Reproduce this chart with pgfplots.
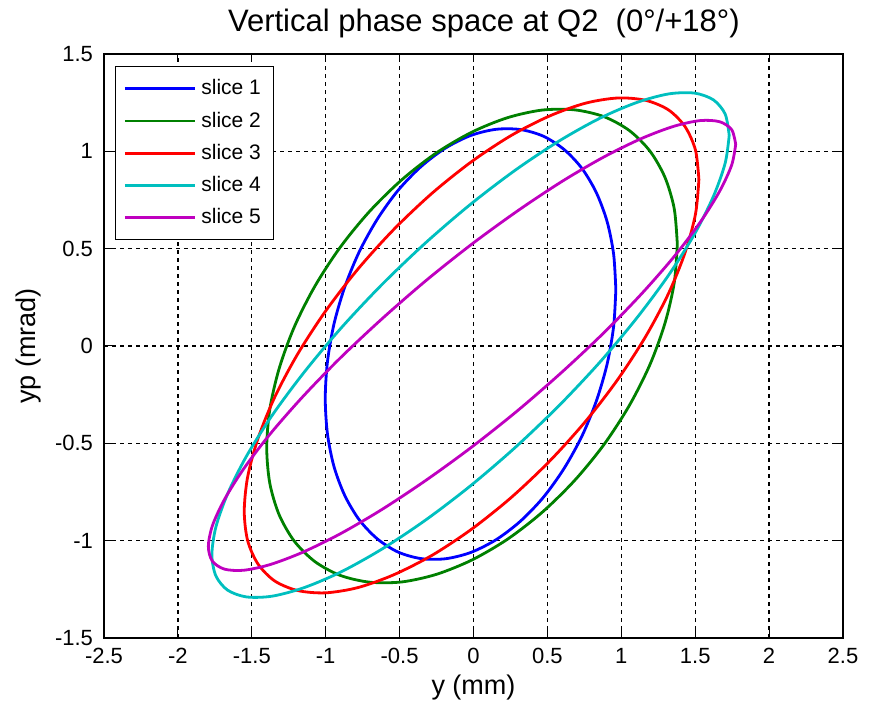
\documentclass[border=0pt]{standalone}
\usepackage{pgfplots}
\pgfplotsset{compat=1.18}
\usepackage{fontspec}
\setmainfont{Liberation Sans}
\definecolor{mblue}{rgb}{0,0,1}
\definecolor{mgreen}{rgb}{0,0.5,0}
\definecolor{mred}{rgb}{1,0,0}
\definecolor{mcyan}{rgb}{0,0.75,0.75}
\definecolor{mmag}{rgb}{0.75,0,0.75}
\begin{document}
\begin{tikzpicture}
\begin{axis}[
  scale only axis, width=369.5pt, height=292pt,
  xmin=-2.5, xmax=2.5, ymin=-1.5, ymax=1.5,
  xtick={-2.5,-2,-1.5,-1,-0.5,0,0.5,1,1.5,2,2.5},
  ytick={-1.5,-1,-0.5,0,0.5,1,1.5},
  tick pos=both, tick align=inside, major tick length=4pt,
  tick style={black, line width=0.5pt},
  axis line style={black, line width=0.6pt},
  grid=major,
  major grid style={black, line width=0.65pt, dash pattern=on 2pt off 2pt},
  /pgf/number format/assume math mode=true,
  tick label style={font=\fontsize{11}{13}\selectfont},
  every x tick label/.append style={yshift=-1.5pt},
  every y tick label/.append style={xshift=-2pt},
  xlabel={y (mm)}, ylabel={yp (mrad)},
  every axis x label/.style={at={(axis description cs:0.5,-0.0856)}, anchor=center, font=\fontsize{13.5}{15}\selectfont},
  every axis y label/.style={at={(axis description cs:-0.102,0.5)}, rotate=90, anchor=center, font=\fontsize{13.5}{15}\selectfont},
  title={Vertical phase space at Q2\ \ (0°/+18°)},
  every axis title/.style={at={(axis description cs:0.514,1.052)}, anchor=center, font=\fontsize{15.5}{17}\selectfont},
  legend style={at={(0.015,0.979)}, anchor=north west, draw=black, line width=0.5pt,
    font=\fontsize{10.5}{12}\selectfont, inner xsep=4pt, inner ysep=4pt, row sep=2pt,
    nodes={inner sep=2.5pt}, /tikz/every even column/.append style={column sep=1pt}},
  legend cell align=left,
  legend image code/.code={\draw[#1, line width=1.4pt] (0pt,0pt) -- (35pt,0pt);},
]
\addplot[mblue, line width=1.4pt, smooth] coordinates {
(0.963,0.290) (0.948,0.472) (0.904,0.639) (0.831,0.788) (0.733,0.913) (0.612,1.010)
(0.472,1.078) (0.316,1.112) (0.151,1.113) (-0.020,1.081) (-0.191,1.016) (-0.356,0.921)
(-0.512,0.798) (-0.652,0.650) (-0.773,0.484) (-0.871,0.303) (-0.944,0.113) (-0.988,-0.080)
(-1.003,-0.270) (-0.988,-0.452) (-0.944,-0.619) (-0.871,-0.768) (-0.773,-0.893) (-0.652,-0.990)
(-0.512,-1.058) (-0.356,-1.092) (-0.191,-1.093) (-0.020,-1.061) (0.151,-0.996) (0.316,-0.901)
(0.472,-0.778) (0.612,-0.630) (0.733,-0.464) (0.831,-0.283) (0.904,-0.093) (0.948,0.100)
(0.963,0.290)};
\addlegendentry{slice 1}
\addplot[mgreen, line width=1.4pt, smooth] coordinates {
(1.379,0.523) (1.358,0.706) (1.295,0.867) (1.193,1.002) (1.054,1.107) (0.883,1.178)
(0.685,1.213) (0.465,1.212) (0.231,1.173) (-0.010,1.099) (-0.251,0.992) (-0.485,0.854)
(-0.705,0.690) (-0.903,0.506) (-1.074,0.306) (-1.213,0.097) (-1.315,-0.116) (-1.378,-0.324)
(-1.399,-0.523) (-1.378,-0.706) (-1.315,-0.867) (-1.213,-1.002) (-1.074,-1.107) (-0.903,-1.178)
(-0.705,-1.213) (-0.485,-1.212) (-0.251,-1.173) (-0.010,-1.099) (0.231,-0.992) (0.465,-0.854)
(0.685,-0.690) (0.883,-0.506) (1.054,-0.306) (1.193,-0.097) (1.295,0.116) (1.358,0.324)
(1.379,0.523)};
\addlegendentry{slice 2}
\addplot[mred, line width=1.4pt, smooth] coordinates {
(1.525,0.855) (1.502,1.006) (1.432,1.126) (1.319,1.213) (1.165,1.262) (0.976,1.274)
(0.756,1.247) (0.513,1.181) (0.254,1.081) (-0.013,0.947) (-0.280,0.785) (-0.539,0.599)
(-0.782,0.395) (-1.002,0.178) (-1.191,-0.043) (-1.345,-0.263) (-1.458,-0.475) (-1.528,-0.672)
(-1.551,-0.849) (-1.528,-1.000) (-1.458,-1.120) (-1.345,-1.207) (-1.191,-1.256) (-1.002,-1.268)
(-0.782,-1.241) (-0.539,-1.175) (-0.280,-1.075) (-0.013,-0.941) (0.254,-0.779) (0.513,-0.593)
(0.756,-0.389) (0.976,-0.172) (1.165,0.049) (1.319,0.269) (1.432,0.481) (1.502,0.678)
(1.525,0.855)};
\addlegendentry{slice 3}
\addplot[mcyan, line width=1.4pt, smooth] coordinates {
(1.730,1.082) (1.703,1.191) (1.624,1.264) (1.496,1.299) (1.321,1.295) (1.105,1.251)
(0.855,1.170) (0.579,1.053) (0.284,0.904) (-0.020,0.728) (-0.324,0.530) (-0.619,0.316)
(-0.895,0.093) (-1.145,-0.134) (-1.361,-0.355) (-1.536,-0.566) (-1.664,-0.760) (-1.743,-0.930)
(-1.770,-1.072) (-1.743,-1.181) (-1.664,-1.254) (-1.536,-1.289) (-1.361,-1.285) (-1.145,-1.241)
(-0.895,-1.160) (-0.619,-1.043) (-0.324,-0.894) (-0.020,-0.718) (0.284,-0.520) (0.579,-0.306)
(0.855,-0.083) (1.105,0.144) (1.321,0.365) (1.496,0.576) (1.624,0.770) (1.703,0.940)
(1.730,1.082)};
\addlegendentry{slice 4}
\addplot[mmag, line width=1.4pt, smooth] coordinates {
(1.774,1.036) (1.747,1.111) (1.666,1.152) (1.535,1.158) (1.357,1.129) (1.137,1.066)
(0.882,0.971) (0.600,0.846) (0.300,0.695) (-0.010,0.524) (-0.320,0.337) (-0.620,0.139)
(-0.902,-0.062) (-1.157,-0.262) (-1.377,-0.453) (-1.555,-0.631) (-1.686,-0.790) (-1.767,-0.924)
(-1.794,-1.030) (-1.767,-1.105) (-1.686,-1.146) (-1.555,-1.152) (-1.377,-1.123) (-1.157,-1.060)
(-0.902,-0.965) (-0.620,-0.840) (-0.320,-0.689) (-0.010,-0.518) (0.300,-0.331) (0.600,-0.133)
(0.882,0.068) (1.137,0.268) (1.357,0.459) (1.535,0.637) (1.666,0.796) (1.747,0.930)
(1.774,1.036)};
\addlegendentry{slice 5}
\end{axis}
\pgfresetboundingbox
\path ([xshift=-52pt,yshift=-34.5pt]current axis.south west) rectangle ([xshift=15pt,yshift=27pt]current axis.north east);
\end{tikzpicture}
\end{document}
